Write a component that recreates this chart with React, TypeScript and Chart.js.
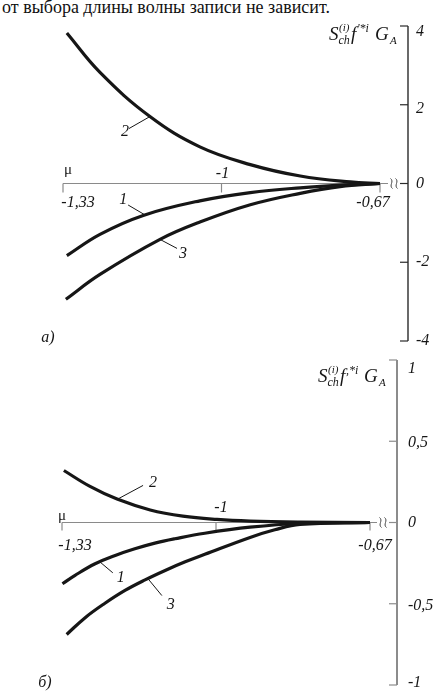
import React, { useEffect, useRef } from "react";
import { Chart, registerables } from "chart.js";

Chart.register(...registerables);

const TITLE_TEXT = "от выбора длины волны записи не зависит.";

// Panel а): curves 1, 2, 3 (x = μ, y = value)
const muA1 = [-1.322, -1.253, -1.163, -1.045, -0.94, -0.836, -0.732, -0.67];
const valA1 = [-1.83, -1.29, -0.81, -0.44, -0.23, -0.11, -0.03, 0];
const muA2 = [-1.322, -1.253, -1.149, -1.045, -0.94, -0.836, -0.732, -0.67];
const valA2 = [3.82, 2.82, 1.7, 0.93, 0.48, 0.19, 0.04, 0];
const muA3 = [-1.324, -1.253, -1.128, -1.045, -0.94, -0.836, -0.753, -0.67];
const valA3 = [-2.94, -2.31, -1.42, -0.98, -0.54, -0.25, -0.08, 0];

// Panel б)
const muB1 = [-1.329, -1.302, -1.259, -1.216, -1.174, -1.131, -1.088, -1.024, -0.927, -0.82, -0.67];
const valB1 = [-0.377, -0.325, -0.254, -0.203, -0.162, -0.127, -0.1, -0.066, -0.029, -0.006, 0];
const muB2 = [-1.326, -1.27, -1.212, -1.141, -1.071, -0.998, -0.927, -0.82, -0.67];
const valB2 = [0.32, 0.222, 0.144, 0.077, 0.039, 0.019, 0.009, 0.003, 0];
const muB3 = [-1.32, -1.281, -1.238, -1.195, -1.152, -1.109, -1.066, -1.024, -0.927, -0.874, -0.82, -0.67];
const valB3 = [-0.689, -0.587, -0.497, -0.418, -0.353, -0.295, -0.242, -0.196, -0.092, -0.045, -0.012, 0];

const xTickValues = [-1.33, -1, -0.67];
const xTickLabels = ["-1,33", "-1", "-0,67"];
const yTicksA = [4, 2, 0, -2, -4];
const yTickLabelsA = ["4", "2", "0", "-2", "-4"];
const yTicksB = [1, 0.5, 0, -0.5, -1];
const yTickLabelsB = ["1", "0,5", "0", "-0,5", "-1"];

const curveNames = ["1", "2", "3"];
const labelMuA = [-1.159, -1.149, -1.128];
const labelValA = [-0.8, 1.7, -1.42];
const labelMuB = [-1.249, -1.212, -1.146];
const labelValB = [-0.242, 0.142, -0.345];

const SERIF = '"Liberation Serif", "Times New Roman", serif';
const INK = "#161616";

const sketchPlugin = {
  id: "sketch",
  beforeDatasetsDraw(chart: any, _args: any, o: any) {
    const ctx = chart.ctx as CanvasRenderingContext2D;
    const xs = chart.scales.x;
    const ys = chart.scales.y;
    const area = chart.chartArea;
    const y0 = ys.getPixelForValue(0);
    const axisX = area.right + o.yAxisDx;
    const bx = area.right + o.breakDx;
    ctx.save();
    // x axis with break
    ctx.strokeStyle = o.xAxisColor;
    ctx.lineWidth = 1.2;
    ctx.beginPath();
    ctx.moveTo(area.left, y0);
    ctx.lineTo(bx - 6, y0);
    ctx.moveTo(bx + 6, y0);
    ctx.lineTo(axisX, y0);
    ctx.stroke();
    ctx.strokeStyle = "#444";
    ctx.lineWidth = 1;
    [-2.5, 2.5].forEach((d) => {
      const x = bx + d;
      ctx.beginPath();
      ctx.moveTo(x - 1, y0 - 5);
      ctx.bezierCurveTo(x + 3, y0 - 2, x - 3, y0 + 2, x + 1, y0 + 5);
      ctx.stroke();
    });
    // x ticks
    ctx.strokeStyle = o.xAxisColor;
    ctx.lineWidth = 1.2;
    xTickValues.forEach((v) => {
      const px = xs.getPixelForValue(v);
      ctx.beginPath();
      ctx.moveTo(px, y0);
      ctx.lineTo(px, y0 + o.xTickLen);
      ctx.stroke();
    });
    // y axis
    const yt: number[] = o.yTicks;
    ctx.strokeStyle = o.yAxisColor;
    ctx.lineWidth = o.yAxisWidth;
    ctx.beginPath();
    ctx.moveTo(axisX, ys.getPixelForValue(yt[0]));
    ctx.lineTo(axisX, ys.getPixelForValue(yt[yt.length - 1]));
    ctx.stroke();
    ctx.lineWidth = 1.2;
    yt.forEach((v) => {
      const py = ys.getPixelForValue(v);
      ctx.beginPath();
      ctx.moveTo(axisX - 8, py);
      ctx.lineTo(axisX, py);
      ctx.stroke();
    });
    ctx.restore();
  },
  afterDatasetsDraw(chart: any, _args: any, o: any) {
    const ctx = chart.ctx as CanvasRenderingContext2D;
    const xs = chart.scales.x;
    const ys = chart.scales.y;
    const area = chart.chartArea;
    const y0 = ys.getPixelForValue(0);
    const axisX = area.right + o.yAxisDx;
    ctx.save();
    ctx.fillStyle = INK;
    ctx.textBaseline = "middle";
    // x tick labels
    ctx.font = `italic 16px ${SERIF}`;
    ctx.textAlign = "center";
    xTickValues.forEach((v, i) => {
      const px = xs.getPixelForValue(v);
      ctx.fillText(xTickLabels[i], px + o.xLabelDx[i], y0 + o.xLabelDy[i]);
    });
    // μ
    ctx.font = `15px ${SERIF}`;
    ctx.fillText("μ", area.left + o.muDx, y0 + o.muDy);
    // y tick labels
    ctx.font = `italic 16px ${SERIF}`;
    ctx.textAlign = "left";
    (o.yTicks as number[]).forEach((v, i) => {
      const py = ys.getPixelForValue(v);
      ctx.fillText(o.yTickLabels[i], axisX + o.yLabelDx, py + o.yLabelDy[i]);
    });
    // y axis title: S_ch^(i) f'*^i G_A
    ctx.textBaseline = "alphabetic";
    const base = ys.getPixelForValue(ys.max) + o.titleDy;
    const left = axisX - 10 - 69;
    const parts = [
      { t: "S", dx: 0, dy: 0, s: 19 },
      { t: "ch", dx: 9.5, dy: 4, s: 12 },
      { t: "(i)", dx: 10, dy: -9, s: 11 },
      { t: "f", dx: 22, dy: 0, s: 19 },
      { t: o.fMark, dx: 28, dy: -8, s: 12 },
      { t: "G", dx: 46, dy: 0, s: 19 },
      { t: "A", dx: 61, dy: 4, s: 11 },
    ];
    parts.forEach((p) => {
      ctx.font = `italic ${p.s}px ${SERIF}`;
      ctx.fillText(p.t, left + p.dx, base + p.dy);
    });
    // curve labels with leaders
    ctx.textBaseline = "middle";
    ctx.textAlign = "center";
    ctx.font = `italic 16px ${SERIF}`;
    ctx.strokeStyle = INK;
    ctx.lineWidth = 1;
    curveNames.forEach((name, i) => {
      const ax = xs.getPixelForValue(o.labelMu[i]);
      const ay = ys.getPixelForValue(o.labelVal[i]);
      const le = o.leaderEnd[i];
      const lo = o.labelOffset[i];
      ctx.beginPath();
      ctx.moveTo(ax, ay);
      ctx.lineTo(ax + le[0], ay + le[1]);
      ctx.stroke();
      ctx.fillText(name, ax + lo[0], ay + lo[1]);
    });
    // panel label
    ctx.font = `italic 16px ${SERIF}`;
    ctx.fillText(o.panel, area.left + o.panelDx, area.bottom + o.panelDy);
    ctx.restore();
  },
};

function makeConfig(sets: [number[], number[]][], yMin: number, yMax: number, padding: any, opts: any): any {
  return {
    type: "line",
    data: {
      datasets: sets.map(([mu, val]) => ({
        data: mu.map((m, i) => ({ x: m, y: val[i] })),
        borderColor: INK,
        borderWidth: 3.2,
        pointRadius: 0,
        fill: false,
        tension: 0.4,
        clip: false,
        borderCapStyle: "butt",
        borderJoinStyle: "round",
      })),
    },
    options: {
      animation: false,
      responsive: false,
      devicePixelRatio: 1,
      events: [],
      layout: { padding },
      plugins: { legend: { display: false }, tooltip: { enabled: false }, sketch: opts },
      scales: {
        x: { type: "linear", min: -1.33, max: -0.67, display: false },
        y: { type: "linear", min: yMin, max: yMax, display: false },
      },
    },
    plugins: [sketchPlugin],
  };
}

export default function App() {
  const refA = useRef<HTMLCanvasElement>(null);
  const refB = useRef<HTMLCanvasElement>(null);

  useEffect(() => {
    const a = new Chart(
      refA.current as HTMLCanvasElement,
      makeConfig(
        [
          [muA1, valA1],
          [muA2, valA2],
          [muA3, valA3],
        ],
        -4,
        4,
        { left: 63, right: 53, top: 26, bottom: 9 },
        {
          yTicks: yTicksA,
          yTickLabels: yTickLabelsA,
          yLabelDx: 8,
          yLabelDy: [6, 4, 0, 0, 0],
          yAxisDx: 28,
          breakDx: 14,
          yAxisColor: "#2a2a2a",
          yAxisWidth: 1.4,
          xAxisColor: "#8a8a8a",
          xTickLen: 9,
          xLabelDx: [15, 1, -7],
          xLabelDy: [19, -10, 19],
          muDx: 5,
          muDy: -13,
          titleDy: 14,
          fMark: "'*i",
          labelMu: labelMuA,
          labelVal: labelValA,
          leaderEnd: [[-17, -10], [-21, 12], [17, 9]],
          labelOffset: [[-22, -15], [-25, 15], [23, 14]],
          panel: "а)",
          panelDx: -15,
          panelDy: -3,
        }
      )
    );
    const b = new Chart(
      refB.current as HTMLCanvasElement,
      makeConfig(
        [
          [muB1, valB1],
          [muB2, valB2],
          [muB3, valB3],
        ],
        -1,
        1,
        { left: 62, right: 63, top: 10, bottom: 6 },
        {
          yTicks: yTicksB,
          yTickLabels: yTickLabelsB,
          yLabelDx: 11,
          yLabelDy: [9, 2, 0, 2, -2],
          yAxisDx: 27,
          breakDx: 13,
          yAxisColor: "#8c8c8c",
          yAxisWidth: 2,
          xAxisColor: "#8a8a8a",
          xTickLen: 8,
          xLabelDx: [13, 5, 5],
          xLabelDy: [23, -15, 23],
          muDx: 0,
          muDy: -6,
          titleDy: 22,
          fMark: ",*i",
          labelMu: labelMuB,
          labelVal: labelValB,
          leaderEnd: [[13, 11], [26, -14], [14, 17]],
          labelOffset: [[21, 16], [36, -17], [23, 26]],
          panel: "б)",
          panelDx: -17,
          panelDy: -2,
        }
      )
    );
    return () => {
      a.destroy();
      b.destroy();
    };
  }, []);

  return (
    <div
      style={{
        position: "absolute",
        left: 0,
        top: 0,
        width: 433,
        height: 691,
        background: "#fff",
        overflow: "hidden",
      }}
    >
      <div
        style={{
          position: "absolute",
          left: 2,
          top: -2,
          fontFamily: SERIF,
          fontSize: 18,
          lineHeight: "18px",
          color: "#111",
          whiteSpace: "nowrap",
        }}
      >
        {TITLE_TEXT}
      </div>
      <canvas
        ref={refA}
        width={433}
        height={350}
        style={{ position: "absolute", left: 0, top: 0, width: 433, height: 350 }}
      />
      <canvas
        ref={refB}
        width={433}
        height={341}
        style={{ position: "absolute", left: 0, top: 350, width: 433, height: 341 }}
      />
    </div>
  );
}
